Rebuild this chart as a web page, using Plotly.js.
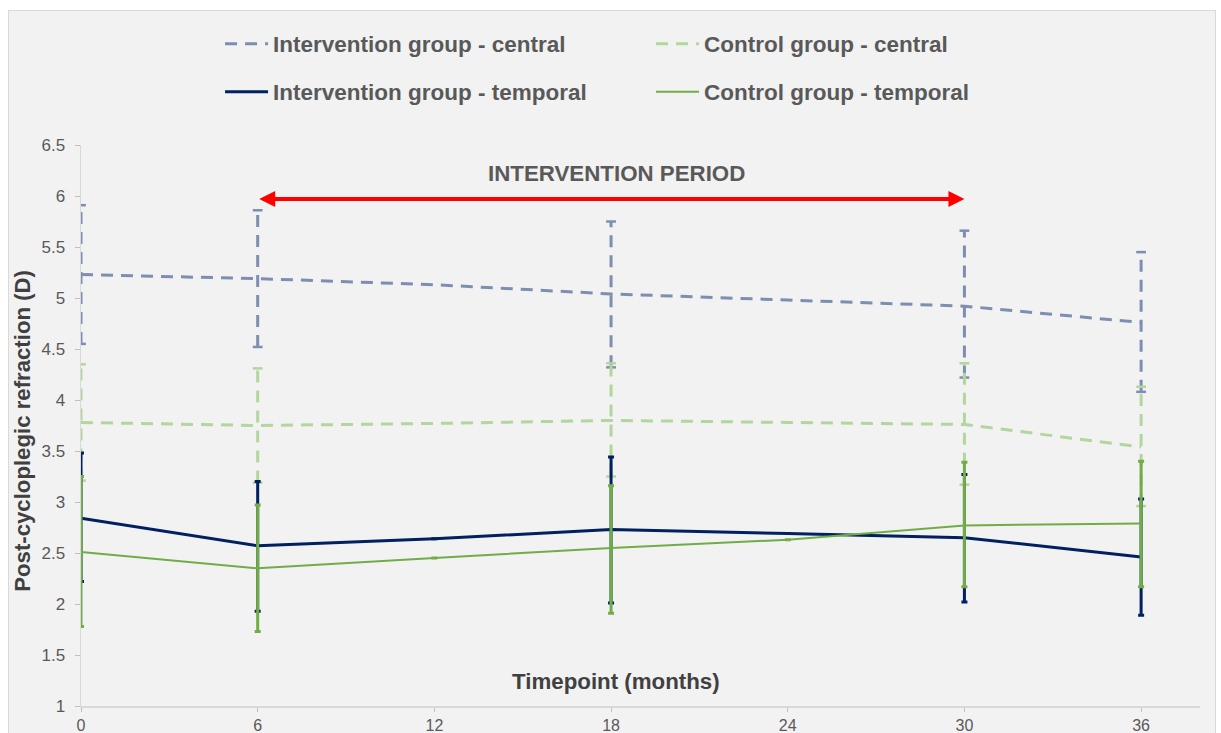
<!DOCTYPE html>
<html>
<head>
<meta charset="utf-8">
<script src="https://cdn.plot.ly/plotly-3.0.1.min.js"></script>
<style>
  html, body { margin: 0; padding: 0; background: #ffffff; overflow: hidden; }
  #frame { position: absolute; left: 8px; top: 10px; width: 1206px; height: 730px;
           border: 1px solid #d9d9d9; background: #f2f2f2; }
  #chart { width: 1206px; height: 722px; }
</style>
</head>
<body>
<div id="frame"><div id="chart"></div></div>
<script>
// ---- data ----
const months = [0, 6, 12, 18, 24, 30, 36];

const seriesNames = [
  'Intervention group - central',
  'Control group - central',
  'Intervention group - temporal',
  'Control group - temporal'
];

const icMean = [5.23, 5.19, 5.13, 5.04, 4.98, 4.92, 4.76];
const icHigh = [5.91, 5.86, null, 5.75, null, 5.66, 5.45];
const icLow  = [4.55, 4.52, null, 4.32, null, 4.22, 4.08];

const ccMean = [3.78, 3.75, 3.77, 3.80, 3.78, 3.76, 3.54];
const ccHigh = [4.35, 4.31, null, 4.36, null, 4.36, 4.13];
const ccLow  = [3.21, 3.19, null, 3.25, null, 3.17, 2.96];

const itMean = [2.84, 2.57, 2.64, 2.73, 2.69, 2.65, 2.46];
const itHigh = [3.48, 3.20, null, 3.44, null, 3.27, 3.03];
const itLow  = [2.22, 1.93, null, 2.01, null, 2.02, 1.89];

const ctMean = [2.51, 2.35, 2.45, 2.55, 2.63, 2.77, 2.79];
const ctHigh = [3.25, 2.97, null, 3.16, null, 3.39, 3.40];
const ctLow  = [1.78, 1.73, null, 1.91, null, 2.17, 2.17];

const yTickVals = [1, 1.5, 2, 2.5, 3, 3.5, 4, 4.5, 5, 5.5, 6, 6.5];
const yTickText = ['1', '1.5', '2', '2.5', '3', '3.5', '4', '4.5', '5', '5.5', '6', '6.5'];
const xTickVals = [0, 6, 12, 18, 24, 30, 36];

const titleY = 'Post-cycloplegic refraction (D)';
const titleX = 'Timepoint (months)';
const periodLabel = 'INTERVENTION PERIOD';
const periodStart = 6, periodEnd = 30, periodLevel = 5.97;

// ---- styles ----
const colIC = '#7d8eb0';
const colCC = '#b3d59e';
const colIT = '#002060';
const colCT = '#70ad47';
const textCol = '#595959';
const font = 'Liberation Sans, Arial, sans-serif';

// dashed error bars built as segments
function errSegments(high, low) {
  const xs = [], ys = [];
  months.forEach((m, i) => {
    if (high[i] == null || low[i] == null) return;
    xs.push(m, m, null);
    ys.push(low[i], high[i], null);
  });
  return {xs, ys};
}
function plusArr(mean, high) { return mean.map((v, i) => high[i] == null ? 0 : +(high[i] - v).toFixed(3)); }
function minusArr(mean, low) { return mean.map((v, i) => low[i] == null ? 0 : +(v - low[i]).toFixed(3)); }

const icSeg = errSegments(icHigh, icLow);
const ccSeg = errSegments(ccHigh, ccLow);

const traces = [
  { x: icSeg.xs, y: icSeg.ys, type: 'scatter', mode: 'lines+markers', showlegend: false, hoverinfo: 'skip',
    line: {color: colIC, width: 3, dash: '12px,8px'},
    marker: {symbol: 'line-ew', size: 7, line: {color: colIC, width: 2.5}} },
  { x: ccSeg.xs, y: ccSeg.ys, type: 'scatter', mode: 'lines+markers', showlegend: false, hoverinfo: 'skip',
    line: {color: colCC, width: 3, dash: '12px,8px'},
    marker: {symbol: 'line-ew', size: 7, line: {color: colCC, width: 2.5}} },
  { x: months, y: icMean, type: 'scatter', mode: 'lines', name: seriesNames[0], legend: 'legend',
    line: {color: colIC, width: 3, dash: '12px,8px'} },
  { x: months, y: ccMean, type: 'scatter', mode: 'lines', name: seriesNames[1], legend: 'legend',
    line: {color: colCC, width: 3, dash: '12px,8px'} },
  { x: months, y: itMean, type: 'scatter', mode: 'lines', name: seriesNames[2], legend: 'legend2',
    line: {color: colIT, width: 3},
    error_y: {type: 'data', symmetric: false, array: plusArr(itMean, itHigh), arrayminus: minusArr(itMean, itLow),
              color: colIT, thickness: 3, width: 3} },
  { x: months, y: ctMean, type: 'scatter', mode: 'lines', name: seriesNames[3], legend: 'legend2',
    line: {color: colCT, width: 2},
    error_y: {type: 'data', symmetric: false, array: plusArr(ctMean, ctHigh), arrayminus: minusArr(ctMean, ctLow),
              color: colCT, thickness: 3, width: 3} }
];

const legendCommon = {
  orientation: 'h', xref: 'container', yref: 'container', xanchor: 'left', yanchor: 'middle',
  entrywidth: 373, entrywidthmode: 'pixels', bgcolor: 'rgba(0,0,0,0)',
  font: {family: font, size: 22.5, color: textCol, weight: 'bold'}, itemwidth: 43
};

const layout = {
  width: 1206, height: 722,
  margin: {l: 72, r: 15, t: 134, b: 27, pad: 0},
  paper_bgcolor: '#f2f2f2', plot_bgcolor: '#f2f2f2',
  font: {family: font, color: textCol, size: 17},
  showlegend: true,
  legend: Object.assign({}, legendCommon, {x: 0.175, y: 1 - 33 / 722}),
  legend2: Object.assign({}, legendCommon, {x: 0.175, y: 1 - 81 / 722}),
  xaxis: {
    range: [0, 38], tickvals: xTickVals, ticktext: xTickVals.map(String),
    showgrid: false, zeroline: false, showline: true, linecolor: '#d9d9d9', linewidth: 2,
    ticks: 'outside', ticklen: 4, tickcolor: '#bfbfbf', tickwidth: 1,
    tickfont: {family: font, size: 16, color: textCol}
  },
  yaxis: {
    range: [1, 6.5], tickvals: yTickVals, ticktext: yTickText,
    showgrid: false, zeroline: false, showline: true, linecolor: '#d9d9d9', linewidth: 1.5,
    ticks: 'outside', ticklen: 5, tickcolor: '#bfbfbf', tickwidth: 1, ticklabelstandoff: 6,
    tickfont: {family: font, size: 17, color: textCol}
  },
  annotations: [
    { xref: 'paper', yref: 'paper', x: -0.053, y: 0.49, text: '<b>' + titleY + '</b>', showarrow: false,
      textangle: -90, font: {family: font, size: 22.2, color: '#404040'}, xanchor: 'center', yanchor: 'middle' },
    { xref: 'paper', yref: 'paper', x: 0.478, y: 0.043, text: '<b>' + titleX + '</b>', showarrow: false,
      font: {family: font, size: 22.3, color: '#404040'}, xanchor: 'center', yanchor: 'middle' },
    { xref: 'x', yref: 'paper', x: 18.17, y: 0.95, text: '<b>' + periodLabel + '</b>', showarrow: false,
      font: {family: font, size: 22.3, color: textCol}, xanchor: 'center', yanchor: 'middle' },
    { xref: 'x', yref: 'y', axref: 'x', ayref: 'y', x: periodEnd, y: periodLevel, ax: periodStart, ay: periodLevel,
      text: '', showarrow: true, arrowside: 'end+start', arrowhead: 2, arrowsize: 0.8, arrowwidth: 4,
      arrowcolor: '#ff0000', standoff: 0, startstandoff: 0 }
  ]
};

Plotly.newPlot('chart', traces, layout, {displayModeBar: false, staticPlot: true});
</script>
</body>
</html>
